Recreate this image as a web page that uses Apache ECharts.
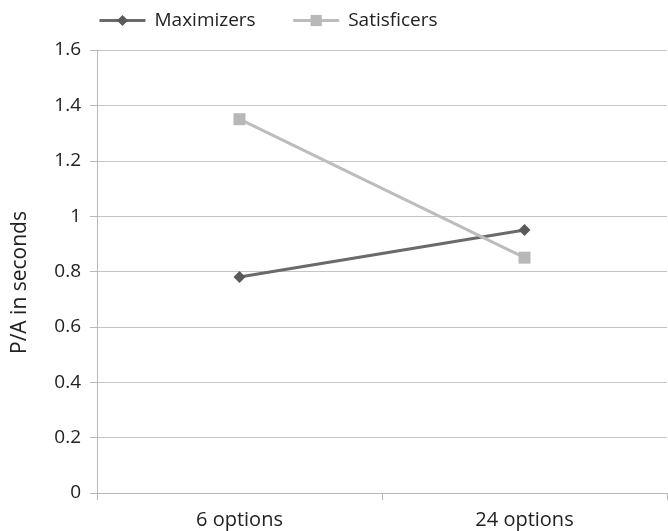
<!DOCTYPE html>
<html><head><meta charset="utf-8">
<script src="https://cdn.jsdelivr.net/npm/echarts@6/dist/echarts.min.js"></script>
<style>html,body{margin:0;padding:0;background:#fff}#c{width:668px;height:531px}</style>
</head><body><div id="c"></div>
<script>
const categories = ['6 options', '24 options'];
const maximizers = [0.78, 0.95];
const satisficers = [1.35, 0.85];
const yTicks = [0, 0.2, 0.4, 0.6, 0.8, 1, 1.2, 1.4, 1.6];
const font = '"Open Sans", sans-serif';
const chart = echarts.init(document.getElementById('c'));
chart.setOption({
  animation: false,
  backgroundColor: '#fff',
  legend: {
    left: 93, top: 6, itemWidth: 46, itemHeight: 14, itemGap: 36,
    lineStyle: { width: 3 },
    textStyle: { fontFamily: font, fontSize: 19, color: '#222', padding: [0, 0, 0, 4] },
    data: ['Maximizers', 'Satisficers']
  },
  grid: { left: 97, right: 1, top: 50, bottom: 38 },
  xAxis: {
    type: 'category', data: categories, boundaryGap: true,
    axisLine: { lineStyle: { color: '#b8b8b8', width: 1 } },
    axisTick: { show: true, length: 7, lineStyle: { color: '#b8b8b8' } },
    axisLabel: { fontFamily: font, fontSize: 20, color: '#222', margin: 17 }
  },
  yAxis: {
    type: 'value', min: 0, max: 1.6, interval: 0.2,
    name: 'P/A in seconds', nameLocation: 'middle', nameGap: 66, nameRotate: 90,
    nameTextStyle: { fontFamily: font, fontSize: 21, color: '#222', padding: [0, 22, 0, 0] },
    axisLine: { show: true, lineStyle: { color: '#b8b8b8' } },
    axisTick: { show: true, length: 7, lineStyle: { color: '#b8b8b8' } },
    splitLine: { lineStyle: { color: '#c4c4c4', width: 1.2 } },
    axisLabel: { fontFamily: font, fontSize: 19, color: '#222', margin: 16,
      formatter: v => String(parseFloat(v.toFixed(1))) }
  },
  series: [
    { name: 'Maximizers', type: 'line', data: maximizers, symbol: 'diamond', symbolSize: 12,
      lineStyle: { color: '#6a6a6a', width: 3 }, itemStyle: { color: '#5a5a5a' } },
    { name: 'Satisficers', type: 'line', data: satisficers, symbol: 'rect', symbolSize: 12,
      lineStyle: { color: '#bdbdbd', width: 3 }, itemStyle: { color: '#b8b8b8' } }
  ]
});
</script></body></html>
